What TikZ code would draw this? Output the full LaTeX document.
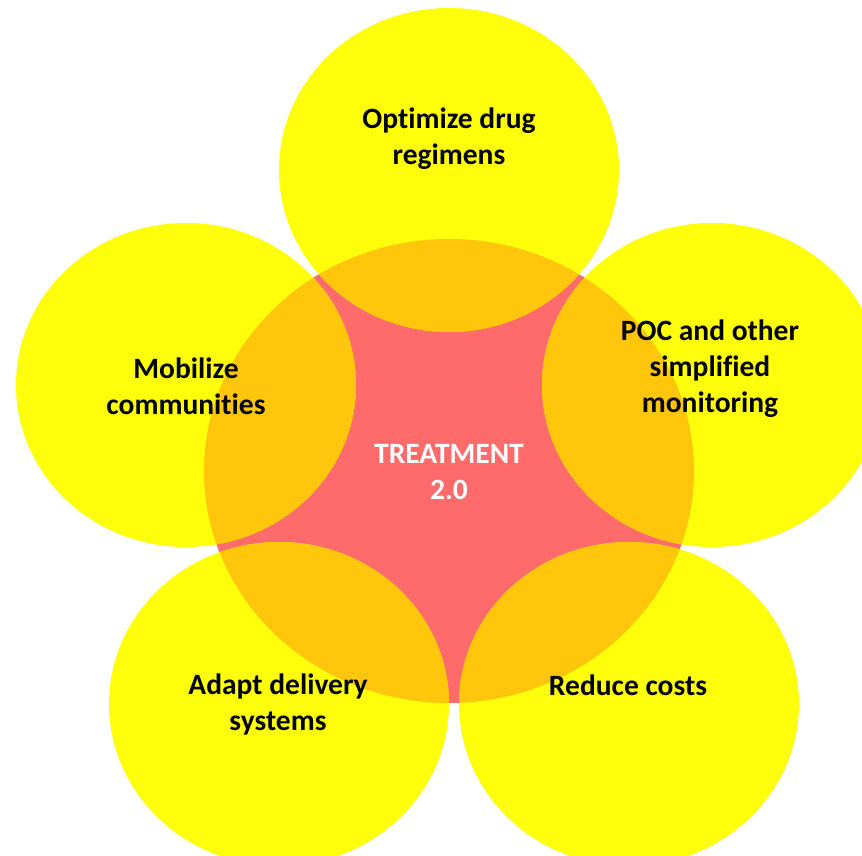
\documentclass[tikz,border=0pt]{standalone}
\usepackage{fontspec}
\setmainfont{Carlito}[Ligatures=NoCommon]
\usetikzlibrary{positioning}

\definecolor{petalyellow}{HTML}{FFFF0C}
\definecolor{corered}{HTML}{FF6A6A}
\definecolor{overlaporange}{HTML}{FFC60C}

\tikzset{
  petal/.style={fill=petalyellow},
  petaltext/.style={font=\bfseries\fontsize{29.5}{36}\selectfont, align=center, text=black, inner sep=0pt},
  coretext/.style={petaltext, text=white},
}

\begin{document}
\begin{tikzpicture}[x=1pt,y=-1pt]
    \useasboundingbox (0,0) rectangle (862,856);
    % centres
    \coordinate (core) at (449,471);
    \coordinate (top) at (449,170);
    \coordinate (left) at (186,385);
    \coordinate (right) at (712,385);
    \coordinate (lowleft) at (279,704);
    \coordinate (lowright) at (629,704);

    \fill[corered] (core) ellipse [x radius=245, y radius=232];
    \foreach \p in {top,left,right,lowleft,lowright}
        \fill[petal] (\p) ellipse [x radius=170, y radius=162];
    % overlaps
    \foreach \p in {top,left,right,lowleft,lowright}{
        \begin{scope}
            \clip (\p) ellipse [x radius=170, y radius=162];
            \fill[overlaporange] (core) ellipse [x radius=245, y radius=232];
        \end{scope}
    }

    \node[coretext] (treat) at (449,472) {TREATMENT\\2.0};
    \node[petaltext] (drug) at (449,139) {Optimize drug\\regimens};
    \node[petaltext] (mobil) at (186,386) {Mobilize\\communities};
    \node[petaltext] (poc) at (710,369) {POC and other\\simplified\\monitoring};
    \node[petaltext] (adapt) at (278,704) {Adapt delivery\\systems};
    \node[petaltext] (cost) at (628,685) {Reduce costs};
\end{tikzpicture}
\end{document}
